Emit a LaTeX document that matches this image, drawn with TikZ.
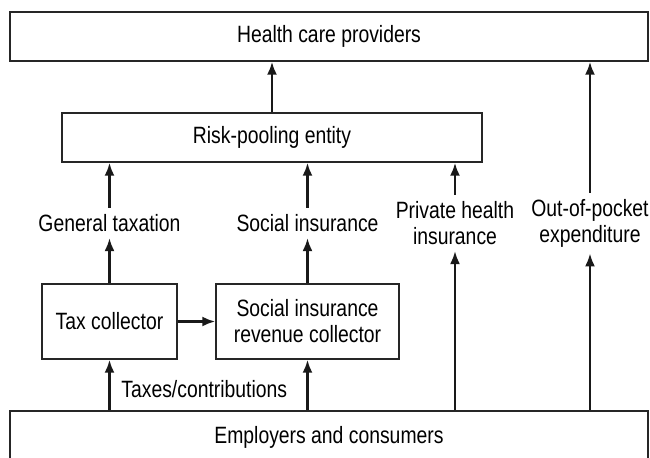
\documentclass[tikz,border=0pt]{standalone}
\usepackage{fontspec}
\setmainfont{Liberation Sans}[FakeStretch=0.82]
\usetikzlibrary{arrows.meta}

\begin{document}
\begin{tikzpicture}[x=0.5pt,y=-0.5pt]
						\tikzstyle{every node}+=[font=\fontsize{11.8}{13}\selectfont]
						\tikzstyle{box}=[draw=black!85, line width=0.7pt, inner sep=0pt]
						\tikzstyle{flow}=[draw=black!90, line width=1.2pt, -{Latex[length=6.5pt,width=5pt]}]
						\tikzstyle{lbl}=[align=center, inner sep=3pt]
						\useasboundingbox (0,0) rectangle (650,457);
						\node [box, minimum width=319pt, minimum height=24.5pt] (hcp) at (329,36.5) {Health care providers};
						\node [box, minimum width=210pt, minimum height=24.5pt] (risk) at (272,137.5) {Risk-pooling entity};
						\node [box, minimum width=67.5pt, minimum height=37.5pt] (tax) at (109.5,321.5) {Tax collector};
						\node [box, minimum width=91.5pt, minimum height=37.5pt, align=center] (soc) at (307.5,321.5) {Social insurance\\revenue collector};
						\node [box, minimum width=319pt, minimum height=26pt] (emp) at (329,437) {Employers and consumers};
						\node [lbl] (gtax) at (109.5,223) {General taxation};
						\node [lbl] (sins) at (307.5,223) {Social insurance};
						\node [lbl] (phi) at (455,223) {Private health\\insurance};
						\node [lbl] (oop) at (590,223) {Out-of-pocket\\expenditure};
						\node [lbl, anchor=west] (tcon) at (115,389) {Taxes/contributions};
						\draw [flow] (risk.north) -- (risk.north |- hcp.south);
						\draw [flow] (oop.north) -- (oop.north |- hcp.south);
						\draw [flow] (gtax.north) -- (gtax.north |- risk.south);
						\draw [flow] (sins.north) -- (sins.north |- risk.south);
						\draw [flow] (phi.north) -- (phi.north |- risk.south);
						\draw [flow] (tax.north) -- (gtax.south);
						\draw [flow] (soc.north) -- (sins.south);
						\draw [flow] (phi.south |- emp.north) -- (phi.south);
						\draw [flow] (oop.south |- emp.north) -- (oop.south);
						\draw [flow] (tax.east) -- (soc.west);
						\draw [flow] (tax.south |- emp.north) -- (tax.south);
						\draw [flow] (soc.south |- emp.north) -- (soc.south);
					\end{tikzpicture}
\end{document}
